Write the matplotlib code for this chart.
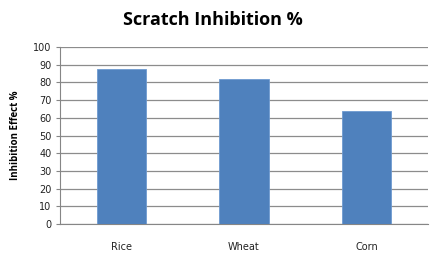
import numpy as np
import matplotlib.pyplot as plt

# values
grains = ['Rice', 'Wheat', 'Corn']
inhibition = [87.5, 82, 64]
y_ticks = list(range(0, 101, 10))

plt.rcParams['font.family'] = ['Open Sans', 'DejaVu Sans']

fig = plt.figure(figsize=(4.44, 2.57), dpi=100)
# plot area: x 60..428 px, y 47..224 px
ax = fig.add_axes([60 / 444, 1 - 224 / 257, 368 / 444, 177 / 257])

x = np.arange(len(grains))
ax.bar(x, inhibition, width=0.4, color='#4F81BD', edgecolor='#6E9AD0',
       linewidth=0.6, zorder=3)

ax.set_xlim(-0.5, len(grains) - 0.5)
ax.set_ylim(0, 100)
ax.set_yticks(y_ticks)
ax.set_xticks(x)
ax.set_xticklabels(grains, fontsize=7, family='DejaVu Sans', color='#222222')
ax.set_yticklabels(y_ticks, fontsize=7, family='DejaVu Sans', color='#222222')
ax.tick_params(axis='x', length=0, pad=13)
ax.tick_params(axis='y', length=3, width=0.8, color='#868686', pad=3)
ax.yaxis.grid(True, color='#8C8C8C', linewidth=0.9, zorder=0)

for side in ['top', 'right']:
    ax.spines[side].set_visible(False)
ax.spines['left'].set_color('#868686')
ax.spines['bottom'].set_color('#868686')

ax.set_ylabel('Inhibition Effect %', fontsize=7, fontweight='bold', labelpad=9)
fig.text(0.48, 1 - 20 / 257, 'Scratch Inhibition %', ha='center', va='center',
         fontsize=13, fontweight='bold')

fig.savefig('out.png', dpi=100)
